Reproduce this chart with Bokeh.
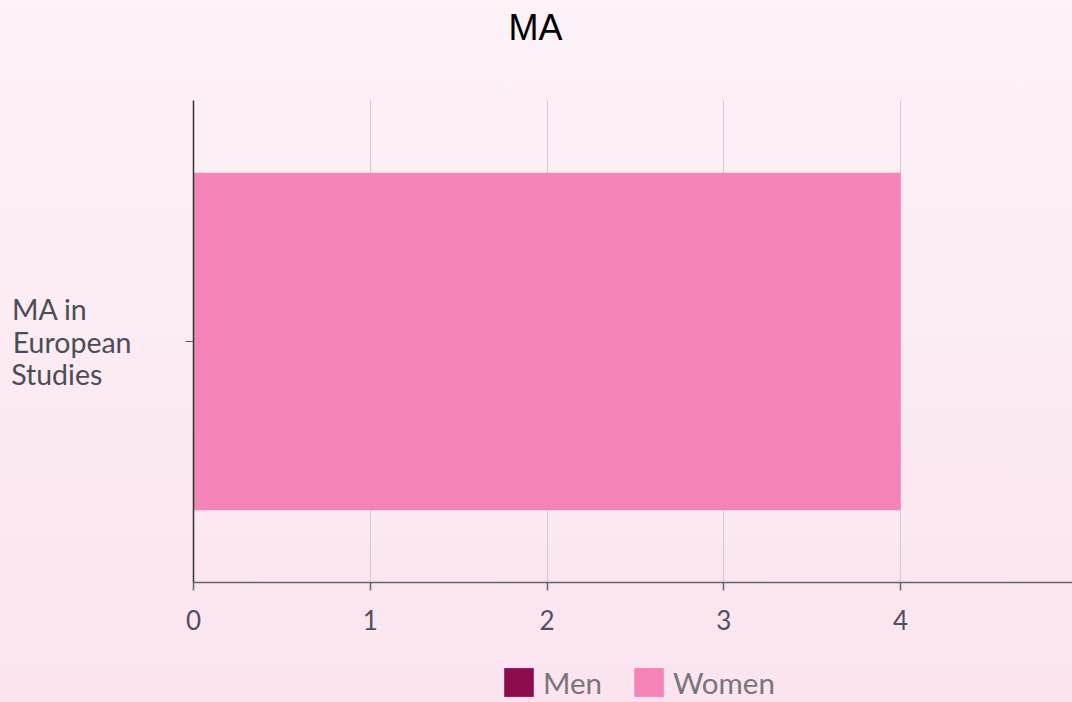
import textwrap
from bokeh.plotting import figure
from bokeh.layouts import column
from bokeh.models import Range1d, FactorRange, FixedTicker, LinearAxis, CustomJSTickFormatter
from bokeh.embed import file_html
from bokeh.resources import INLINE

title = "MA"
categories = ["MA in European Studies"]
series_names = ["Men", "Women"]
men = [0]
women = [4]
x_ticks = [0, 1, 2, 3, 4]
colors = ["#8C0C4E", "#F585B9"]

FONT = "Lato"

# approximate Lato advance widths (em) used to left-align the wrapped axis label
_W = {"M": 0.866, "A": 0.68, " ": 0.257, "i": 0.235, "n": 0.56, "E": 0.56, "u": 0.56,
      "r": 0.37, "o": 0.56, "p": 0.56, "e": 0.52, "a": 0.49, "S": 0.47, "t": 0.36,
      "d": 0.56, "s": 0.41}
_NBSP = 0.257


def left_aligned(label, width=10):
    lines = textwrap.wrap(label, width)
    widths = [sum(_W.get(ch, 0.55) for ch in ln) for ln in lines]
    wmax = max(widths)
    return "\n".join(ln + "\u00a0" * int((wmax - w) / _NBSP + 0.5) for ln, w in zip(lines, widths))


factors = [left_aligned(c) for c in categories]

p = figure(width=1072, height=660, output_backend="svg", toolbar_location=None,
           y_range=FactorRange(*factors, range_padding=0),
           x_range=Range1d(0, 4.973),
           min_border_left=193, min_border_right=0, min_border_top=100, min_border_bottom=78)
p.border_fill_color = None
p.background_fill_color = None
p.outline_line_color = None

xa = p.xaxis[0]
ya = p.yaxis[0]

data = {"cat": factors, "Men": men, "Women": women}
p.hbar_stack(series_names, y="cat", height=0.7, color=colors, source=data, line_color=None)

# invisible spacer above the plot area (keeps the title high)
top_spacer = LinearAxis(ticker=FixedTicker(ticks=[x_ticks[0]]), axis_line_color=None,
                        major_tick_line_color=None, minor_tick_line_color=None,
                        major_tick_in=0, major_tick_out=49, major_label_standoff=0,
                        formatter=CustomJSTickFormatter(code="return ''"),
                        major_label_text_font_size="1px")
p.add_layout(top_spacer, "above")

# title
p.title.text = title
p.title.text_font = "Liberation Sans"
p.title.text_font_size = "36px"
p.title.text_font_style = "normal"
p.title.text_color = "#000000"
p.title.align = "left"
p.title.offset = 315
p.title.standoff = 8

# x axis
xa.ticker = FixedTicker(ticks=x_ticks)
xa.axis_line_color = "#666666"
xa.axis_line_width = 1.5
xa.major_tick_line_color = "#666666"
xa.major_tick_line_width = 1.5
xa.major_tick_in = 0
xa.major_tick_out = 8
xa.minor_tick_line_color = None
xa.major_label_text_font = FONT
xa.major_label_text_font_size = "26px"
xa.major_label_text_color = "#4d5060"
xa.major_label_standoff = 19

p.xgrid.ticker = FixedTicker(ticks=x_ticks[1:])
p.xgrid.grid_line_color = "#d2c9ce"
p.ygrid.grid_line_color = None

# y axis
ya.axis_line_color = "#333333"
ya.axis_line_width = 1.5
ya.major_tick_line_color = "#555555"
ya.major_tick_in = 0
ya.major_tick_out = 8
ya.major_label_text_font = FONT
ya.major_label_text_font_size = "28.5px"
ya.major_label_text_color = "#4a4d55"
ya.major_label_text_line_height = 0.97
ya.major_label_standoff = 54

# legend strip below the chart
pl = figure(width=1072, height=42, output_backend="svg", toolbar_location=None,
            x_range=Range1d(0, 1), y_range=Range1d(0, 1),
            x_axis_location=None, y_axis_location=None,
            min_border_left=0, min_border_right=0, min_border_top=0, min_border_bottom=0)
pl.border_fill_color = None
pl.background_fill_color = None
pl.outline_line_color = None
pl.grid.visible = False
for name, col, vals in zip(series_names, colors, [men, women]):
    # zero-width bars: only their legend swatches are visible
    pl.hbar(y=[0.5] * len(vals), left=[0] * len(vals), right=[0] * len(vals), height=0,
            color=col, line_color=None, legend_label=name)

leg = pl.legend[0]
leg.orientation = "horizontal"
leg.location = (307, 2)
leg.background_fill_alpha = 0
leg.border_line_color = None
leg.padding = 0
leg.margin = 0
leg.glyph_width = 37
leg.glyph_height = 36
leg.label_standoff = 6
leg.spacing = 28
leg.label_text_font = FONT
leg.label_text_font_size = "29.5px"
leg.label_text_color = "#777777"

layout = column(p, pl, spacing=0)
layout.styles = {"background": "linear-gradient(180deg, #FCF2F7 0%, #FBE4EF 100%)"}

html = file_html(layout, INLINE)
open("out.html", "w").write(html)
